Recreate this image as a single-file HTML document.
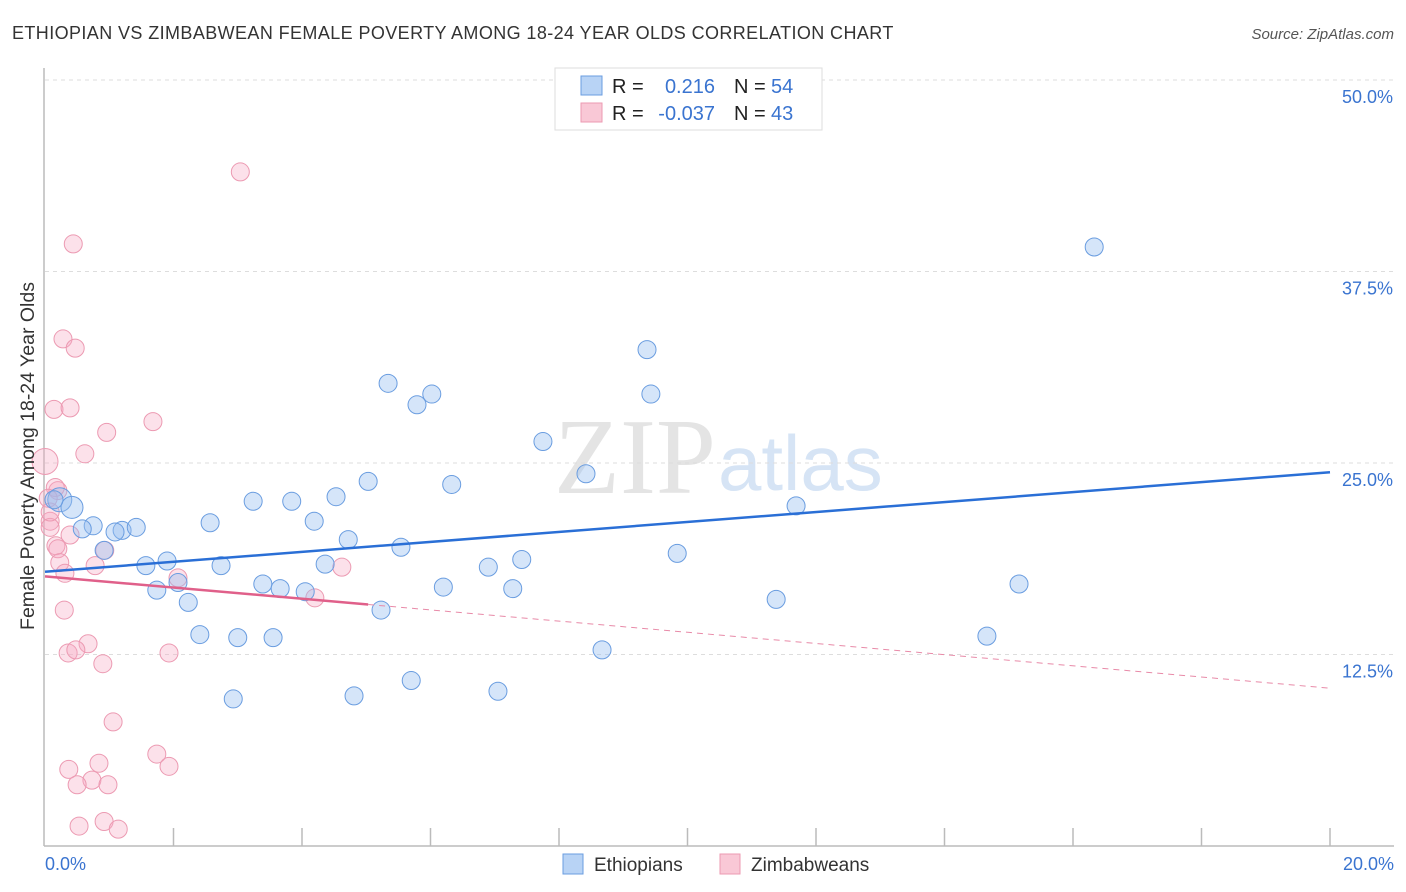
<!DOCTYPE html>
<html><head><meta charset="utf-8">
<style>
body{margin:0;background:#fff;font-family:"Liberation Sans",sans-serif;}
svg{display:block}
</style></head>
<body>
<svg id="chart" width="1406" height="892" xmlns="http://www.w3.org/2000/svg">
<text x="12" y="39" font-size="18" fill="#333" letter-spacing="0.4">ETHIOPIAN VS ZIMBABWEAN FEMALE POVERTY AMONG 18-24 YEAR OLDS CORRELATION CHART</text>
<text x="1394" y="39" font-size="15" fill="#555" text-anchor="end" font-style="italic">Source: ZipAtlas.com</text>
<text x="716" y="493" font-size="108" fill="#e4e4e4" text-anchor="end" font-family="Liberation Serif">ZIP</text>
<text x="718" y="490" font-size="78" fill="#d6e4f5">atlas</text>
<g id="grid"></g>
<g id="axes"></g>
<g id="pts"></g>
<g id="trend"></g>
<text x="34" y="456" font-size="19.5" fill="#333" text-anchor="middle" transform="rotate(-90 34 456)">Female Poverty Among 18-24 Year Olds</text>
<g>
<rect x="555" y="68" width="267" height="62" fill="#fff" stroke="#ddd"/>
<rect x="581" y="76" width="21" height="19" fill="#b8d3f5" stroke="#6a9de0"/>
<rect x="581" y="103" width="21" height="19" fill="#f9c8d6" stroke="#ec9ab2"/>
<text x="612" y="93" font-size="20" fill="#222">R =</text>
<text x="715" y="93" font-size="20" fill="#3a74d0" text-anchor="end">0.216</text>
<text x="734" y="93" font-size="20" fill="#222">N =</text>
<text x="771" y="93" font-size="20" fill="#3a74d0">54</text>
<text x="612" y="120" font-size="20" fill="#222">R =</text>
<text x="715" y="120" font-size="20" fill="#3a74d0" text-anchor="end">-0.037</text>
<text x="734" y="120" font-size="20" fill="#222">N =</text>
<text x="771" y="120" font-size="20" fill="#3a74d0">43</text>
</g>
<g>
<rect x="563" y="854" width="20" height="20" fill="#b8d3f5" stroke="#6a9de0"/>
<text x="594" y="871" font-size="19" fill="#333">Ethiopians</text>
<rect x="720" y="854" width="20" height="20" fill="#f9c8d6" stroke="#ec9ab2"/>
<text x="751" y="871" font-size="19" fill="#333">Zimbabweans</text>
</g>
</svg>
<script>
const yTicks=[12.5,25,37.5,50];
const yTickLabels=["12.5%","25.0%","37.5%","50.0%"];
const xTickLabels=["0.0%","20.0%"];
const ethX=[16.33,9.37,9.43,5.34,6.02,5.79,7.75,8.42,6.33,5.03,4.53,3.24,3.84,11.69,0.23,0.42,0.14,0.75,0.58,1.2,1.09,1.42,2.57,4.19,4.72,5.54,9.84,7.42,0.92,1.57,1.9,2.74,4.36,6.9,2.07,3.39,3.66,4.05,15.16,6.2,7.28,1.74,2.23,11.38,5.23,2.41,3.0,3.55,14.66,8.67,5.7,7.05,4.81,2.93];
const ethY=[39.1,32.4,29.5,30.2,29.5,28.8,26.4,24.3,23.6,23.8,22.8,22.5,22.5,22.2,22.6,22.1,22.6,20.9,20.7,20.6,20.5,20.8,21.1,21.2,20.0,19.5,19.1,18.7,19.3,18.3,18.6,18.3,18.4,18.2,17.2,17.1,16.8,16.6,17.1,16.9,16.8,16.7,15.9,16.1,15.4,13.8,13.6,13.6,13.7,12.8,10.8,10.1,9.8,9.6];
const ethR=[9,9,9,9,9,9,9,9,9,9,9,9,9,9,12,11,9,9,9,9,9,9,9,9,9,9,9,9,9,9,9,9,9,9,9,9,9,9,9,9,9,9,9,9,9,9,9,9,9,9,9,9,9,9];
const zimX=[3.04,0.44,0.28,0.47,0.14,0.39,1.68,0.96,0.62,0.0,0.2,0.16,0.05,0.08,0.08,0.39,0.17,0.2,0.23,0.78,0.31,0.93,2.07,4.62,4.2,0.3,0.67,0.36,0.48,0.9,1.93,1.06,1.74,0.84,0.37,1.93,0.73,0.5,0.98,0.92,0.53,1.14,0.08];
const zimY=[44.0,39.3,33.1,32.5,28.5,28.6,27.7,27.0,25.6,25.1,23.2,23.4,22.7,21.2,20.8,20.3,19.6,19.4,18.5,18.3,17.8,19.3,17.5,18.2,16.2,15.4,13.2,12.6,12.8,11.9,12.6,8.1,6.0,5.4,5.0,5.2,4.3,4.0,4.0,1.6,1.3,1.1,21.8];
const zimR=[9,9,9,9,9,9,9,9,9,13,9,9,9,9,9,9,9,9,9,9,9,9,9,9,9,9,9,9,9,9,9,9,9,9,9,9,9,9,9,9,9,9,9];
const ethTrend=[17.9,24.4];
const zimTrend=[17.6,10.3];
const zimSolidEnd=5.03;
const NS="http://www.w3.org/2000/svg";
const xs=v=>45+v*64.25, ys=v=>846-v*15.32;
function mk(tag,attrs,parent){const e=document.createElementNS(NS,tag);for(const k in attrs)e.setAttribute(k,attrs[k]);parent.appendChild(e);return e;}
const grid=document.getElementById('grid'),axes=document.getElementById('axes'),pts=document.getElementById('pts'),tr=document.getElementById('trend');
yTicks.forEach((t,i)=>{
  const l=mk('line',{x1:45,x2:1394,y1:ys(t),y2:ys(t),stroke:'#ddd','stroke-dasharray':'4,4'},grid);
  
  
  const tx=mk('text',{x:1393,y:ys(t)+23,'font-size':18,fill:'#3a74d0','text-anchor':'end'},grid);
  tx.textContent=yTickLabels[i];
  
  
});
const ya=mk('line',{x1:44,x2:44,y1:68,y2:846,stroke:'#bbb','stroke-width':1.5},axes);


const xa=mk('line',{x1:44,x2:1394,y1:846,y2:846,stroke:'#bbb','stroke-width':1.5},axes);


for(let i=1;i<=10;i++){const t=mk('line',{x1:xs(i*2),x2:xs(i*2),y1:828,y2:846,stroke:'#bbb','stroke-width':1.5},axes);

}
[[0,'start',45],[20,'end',1394]].forEach((d,i)=>{const t=mk('text',{x:d[2],y:870,'font-size':18,fill:'#3a74d0','text-anchor':d[1]},axes);t.textContent=xTickLabels[i];

});
zimX.forEach((x,i)=>{const c=mk('circle',{cx:xs(x),cy:ys(zimY[i]),r:zimR[i],fill:'rgba(246,170,195,0.35)',stroke:'#ec9ab2','stroke-width':1},pts);

});
ethX.forEach((x,i)=>{const c=mk('circle',{cx:xs(x),cy:ys(ethY[i]),r:ethR[i],fill:'rgba(150,190,240,0.4)',stroke:'#6a9de0','stroke-width':1},pts);

});
const b=mk('line',{x1:xs(0),y1:ys(ethTrend[0]),x2:xs(20),y2:ys(ethTrend[1]),stroke:'#2a6fd6','stroke-width':2.5},tr);


const zAt=x=>zimTrend[0]+(zimTrend[1]-zimTrend[0])*x/20;
const p1=mk('line',{x1:xs(0),y1:ys(zimTrend[0]),x2:xs(zimSolidEnd),y2:ys(zAt(zimSolidEnd)),stroke:'#e0608a','stroke-width':2.5},tr);


const p2=mk('line',{x1:xs(zimSolidEnd),y1:ys(zAt(zimSolidEnd)),x2:xs(20),y2:ys(zimTrend[1]),stroke:'#e88aa8','stroke-width':1,'stroke-dasharray':'6,5'},tr);


</script>
</body></html>
